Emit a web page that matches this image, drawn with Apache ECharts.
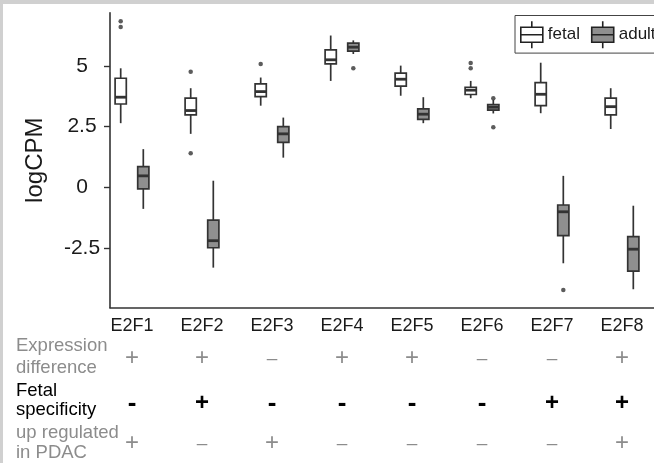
<!DOCTYPE html>
<html><head><meta charset="utf-8">
<script src="https://cdn.jsdelivr.net/npm/echarts@6/dist/echarts.min.js"></script>
<style>html,body{margin:0;padding:0;background:#fff}#c{width:654px;height:463px}</style>
</head><body><div id="c"></div>
<script>
const categories = ['E2F1','E2F2','E2F3','E2F4','E2F5','E2F6','E2F7','E2F8'];
// [min, Q1, median, Q3, max]
const fetalStats = [
  [2.64, 3.43, 3.71, 4.49, 4.90],
  [2.20, 2.98, 3.16, 3.67, 4.08],
  [3.36, 3.73, 3.94, 4.26, 4.52],
  [4.38, 5.08, 5.25, 5.66, 6.25],
  [3.77, 4.17, 4.45, 4.70, 5.01],
  [3.67, 3.82, 4.00, 4.12, 4.38],
  [3.05, 3.36, 3.83, 4.31, 5.13],
  [2.40, 2.98, 3.32, 3.67, 4.08]
];
const adultStats = [
  [-0.89, -0.07, 0.47, 0.85, 1.57],
  [-3.31, -2.49, -2.20, -1.35, 0.27],
  [1.22, 1.85, 2.20, 2.50, 2.87],
  [5.49, 5.61, 5.77, 5.94, 6.05],
  [2.64, 2.80, 3.01, 3.23, 3.71],
  [3.04, 3.18, 3.30, 3.41, 3.60],
  [-3.13, -1.99, -1.01, -0.73, 0.47],
  [-4.20, -3.45, -2.55, -2.03, -0.76]
];
// [category index, value]
const fetalOutliers = [[0, 6.60], [0, 6.84], [1, 4.76], [1, 1.40], [2, 5.08], [5, 4.90], [5, 5.12]];
const adultOutliers = [[3, 4.90], [5, 3.67], [5, 2.47], [6, -4.23]];
const expressionDifference = ['+', '+', '–', '+', '+', '–', '–', '+'];
const fetalSpecificity = ['-', '+', '-', '-', '-', '-', '+', '+'];
const upRegulatedPDAC = ['+', '–', '+', '–', '–', '–', '–', '+'];
const yTicks = [-2.5, 0, 2.5, 5];
const catIdx = categories.map((c, i) => i);

const FONT = 'Liberation Sans, Arial, Helvetica, sans-serif';
const DODGE = 11.3;
const HALF = 5.6;
const STROKE = '#333';

function boxRenderer(offset, fill) {
  return function (params, api) {
    const x = api.value(0);
    const p = [1, 2, 3, 4, 5].map(k => api.coord([x, api.value(k)]));
    const cx = p[0][0] + offset;
    return {
      type: 'group',
      children: [
        { type: 'line', shape: { x1: cx, y1: p[4][1], x2: cx, y2: p[3][1] }, style: { stroke: STROKE, lineWidth: 1.7 } },
        { type: 'line', shape: { x1: cx, y1: p[1][1], x2: cx, y2: p[0][1] }, style: { stroke: STROKE, lineWidth: 1.7 } },
        { type: 'rect', shape: { x: cx - HALF, y: p[3][1], width: 2 * HALF, height: p[1][1] - p[3][1] }, style: { fill: fill, stroke: STROKE, lineWidth: 1.7 } },
        { type: 'line', shape: { x1: cx - HALF, y1: p[2][1], x2: cx + HALF, y2: p[2][1] }, style: { stroke: STROKE, lineWidth: 2.8 } }
      ]
    };
  };
}

const xMin = -0.3143, xMax = 7.457;
function rowAxis(values, margin, color, weight, plusSize, minusSize) {
  return {
    type: 'value', min: xMin, max: xMax, position: 'bottom', gridIndex: 0,
    axisLine: { show: false }, axisTick: { show: false }, splitLine: { show: false },
    axisLabel: {
      customValues: catIdx, margin: margin, verticalAlign: 'middle',
      formatter: v => (values[v] === '+' ? '{p|' : '{m|') + values[v] + '}',
      rich: {
        p: { color: color, fontSize: plusSize, fontWeight: weight, fontFamily: FONT },
        m: { color: color, fontSize: minusSize, fontWeight: weight, fontFamily: FONT }
      }
    }
  };
}
const legendIcon = 'path://M0,6 L22,6 L22,21 L0,21 Z M11,0 L11,6 M11,21 L11,27 M0,13.5 L22,13.5';

function rowLabel(text, y, color) {
  return { type: 'text', left: 16, top: y, silent: true,
    style: { text: text, fill: color, font: '18.5px ' + FONT, verticalAlign: 'middle' } };
}

const chart = echarts.init(document.getElementById('c'), null, { renderer: 'canvas' });
chart.setOption({
  animation: false,
  backgroundColor: '#fff',
  grid: { left: 110, top: 12.7, right: 0, bottom: 155.3, containLabel: false, outerBoundsMode: 'none' },
  legend: {
    left: 515, top: 15.5, width: 220, orient: 'horizontal',
    padding: [5, 5, 4, 5], itemWidth: 22, itemHeight: 27, itemGap: 11,
    borderColor: '#444', borderWidth: 1,
    textStyle: { fontSize: 17, color: '#1a1a1a', fontFamily: FONT },
    itemStyle: { borderColor: '#222', borderWidth: 1.6 },
    data: [{ name: 'fetal', icon: legendIcon }, { name: 'adult', icon: legendIcon }]
  },
  xAxis: [
    {
      type: 'value', min: xMin, max: xMax, position: 'bottom',
      axisLine: { show: true, onZero: false, lineStyle: { color: '#333', width: 1.6 } },
      axisTick: { show: false }, splitLine: { show: false },
      axisLabel: { customValues: catIdx, formatter: v => categories[v], margin: 9, fontSize: 18, color: '#1a1a1a', fontFamily: FONT }
    },
    rowAxis(expressionDifference, 51, '#8c8c8c', 'normal', 24, 19),
    rowAxis(fetalSpecificity, 96, '#000', 'bold', 24, 26),
    rowAxis(upRegulatedPDAC, 136, '#8c8c8c', 'normal', 24, 19)
  ],
  yAxis: {
    type: 'value', min: -4.96, max: 7.19,
    name: 'logCPM', nameLocation: 'middle', nameGap: 63,
    nameTextStyle: { fontSize: 24, color: '#1a1a1a', fontFamily: FONT },
    axisLine: { show: true, onZero: false, lineStyle: { color: '#333', width: 1.6 } },
    axisTick: { show: true, customValues: yTicks, length: 6, lineStyle: { color: '#333', width: 1.4 } },
    splitLine: { show: false },
    axisLabel: { customValues: yTicks, formatter: v => String(v), margin: 28, align: 'center', fontSize: 21, color: '#1a1a1a', fontFamily: FONT }
  },
  series: [
    { type: 'custom', name: 'fetal', renderItem: boxRenderer(-DODGE, '#ffffff'),
      data: fetalStats.map((s, i) => [i].concat(s)), encode: { x: 0, y: [1, 2, 3, 4, 5] },
      itemStyle: { color: '#ffffff' }, z: 3 },
    { type: 'custom', name: 'adult', renderItem: boxRenderer(DODGE, '#8f8f8f'),
      data: adultStats.map((s, i) => [i].concat(s)), encode: { x: 0, y: [1, 2, 3, 4, 5] },
      itemStyle: { color: '#8f8f8f' }, z: 3 },
    { type: 'scatter', name: 'fetal outliers', data: fetalOutliers, symbolSize: 4.5,
      symbolOffset: [-DODGE, 0], itemStyle: { color: '#333' }, z: 4 },
    { type: 'scatter', name: 'adult outliers', data: adultOutliers, symbolSize: 4.5,
      symbolOffset: [DODGE, 0], itemStyle: { color: '#333' }, z: 4 }
  ],
  graphic: [
    { type: 'rect', left: 0, top: 0, shape: { width: 654, height: 4 }, style: { fill: '#d0d0d0' }, silent: true },
    { type: 'rect', left: 0, top: 0, shape: { width: 3, height: 463 }, style: { fill: '#d0d0d0' }, silent: true },
    rowLabel('Expression', 336, '#8c8c8c'),
    rowLabel('difference', 358, '#8c8c8c'),
    rowLabel('Fetal', 381, '#000'),
    rowLabel('specificity', 400, '#000'),
    rowLabel('up regulated', 423, '#8c8c8c'),
    rowLabel('in PDAC', 443, '#8c8c8c')
  ]
});
</script></body></html>
